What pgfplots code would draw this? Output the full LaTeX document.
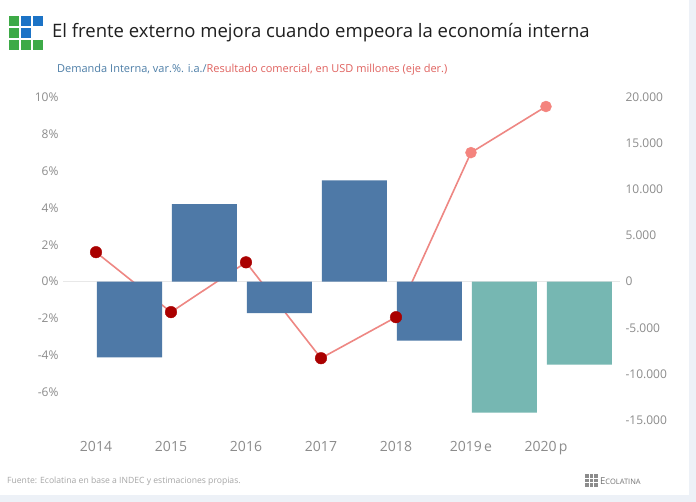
\documentclass[border=0pt]{standalone}
\usepackage{fontspec}
\setmainfont{Open Sans}
\usepackage{pgfplots}
\pgfplotsset{compat=1.18}
\definecolor{barblue}{HTML}{4E79A7}
\definecolor{barteal}{HTML}{76B7B2}
\definecolor{linered}{HTML}{EE8783}
\definecolor{darkred}{HTML}{AA0000}
\definecolor{lightred}{HTML}{F4847E}
\definecolor{ticktxt}{HTML}{8C8C8C}
\definecolor{subblue}{HTML}{4E7FA8}
\definecolor{subred}{HTML}{E0625F}
\definecolor{logogreen}{HTML}{3DAA47}
\definecolor{logoblue}{HTML}{1C73C6}
\definecolor{framebg}{HTML}{EDF1F7}
\definecolor{zeroline}{HTML}{E8E8E8}

\pgfplotsset{common/.style={
  at={(63pt,82pt)}, anchor=south west,
  width=557pt, height=322.7pt, scale only axis,
  xmin=-0.44, xmax=6.987, clip=false,
  axis line style={draw=none}, tick style={draw=none}, major tick length=0pt,
  scaled y ticks=false,
  /pgf/number format/assume math mode=true,
  ticklabel style={text=ticktxt}
}}

\begin{document}
\begin{tikzpicture}[x=1pt,y=1pt]
\fill[framebg] (0,0) rectangle (696,502);
\fill[white] (0,7) rectangle (689,502);
\useasboundingbox (0,0) rectangle (696,502);
% logo
\fill[logogreen] (9,476) rectangle (19,486);
\fill[logoblue]  (21,476) rectangle (31,486);
\fill[logoblue]  (33,476) rectangle (43,486);
\fill[logogreen] (9,464) rectangle (19,474);
\fill[logoblue]  (21,464) rectangle (31,474);
\fill[logogreen] (9,452) rectangle (19,462);
\fill[logogreen] (21,452) rectangle (31,462);
\fill[logogreen] (33,452) rectangle (43,462);
\node[anchor=west, inner sep=0pt, font=\fontsize{18.5}{22}\selectfont, text=black!88] at (52,469) {El frente externo mejora cuando empeora la economía interna};
\node[anchor=west, inner sep=0pt, font=\fontsize{11}{13}\selectfont] at (57,432) {\textcolor{subblue}{Demanda Interna, var.\%. i.a./}\textcolor{subred}{Resultado comercial, en USD millones (eje der.)}};
% footer
\node[anchor=west, inner sep=0pt, font=\fontsize{8.6}{10}\selectfont, text=black!35] at (7,21) {Fuente: Ecolatina en base a INDEC y estimaciones propias.};
\foreach \i in {0,1,2} \foreach \j in {0,1,2} {
  \fill[black!45] (585+\i*4.5,15+\j*4.5) rectangle (588.8+\i*4.5,18.8+\j*4.5);
}
\node[anchor=west, inner sep=0pt, text=black!55] at (600,21) {\fontsize{9.5}{10}\selectfont E\fontsize{7.5}{10}\selectfont COLATINA};

% line (behind bars)
\begin{axis}[common, ymin=-15000, ymax=20000,
  xtick=\empty, ytick=\empty,
  extra y ticks={0}, extra y tick labels={},
  extra y tick style={grid=major, major grid style={draw=zeroline, line width=0.8pt}}]
\addplot[linered, line width=1.6pt, no marks] coordinates {
  (0,3200) (1,-3300) (2,2100) (3,-8300) (4,-3850) (5,14000) (6,19000)};
\end{axis}

% bars, left axis
\begin{axis}[common, ymin=-7.5, ymax=10,
  ytick={-6,-4,-2,0,2,4,6,8,10},
  yticklabel={\pgfmathprintnumber{\tick}\%},
  yticklabel style={font=\fontsize{12}{14}\selectfont, anchor=east, xshift=-1pt},
  xtick={0,1,2,3,4,5,6},
  xticklabels={2014,2015,2016,2017,2018,{2019\,e},{2020\,p}},
  xticklabel style={font=\fontsize{14}{16}\selectfont, anchor=base, yshift=-32pt}]
\addplot[ybar, bar width=65pt, bar shift=33.5pt, fill=barblue, draw=none] coordinates {
  (0,-4.1) (1,4.2) (2,-1.7) (3,5.5) (4,-3.2)};
\addplot[ybar, bar width=65pt, bar shift=33.5pt, fill=barteal, draw=none] coordinates {
  (5,-7.1) (6,-4.5)};
\end{axis}

% markers, right axis
\begin{axis}[common, ymin=-15000, ymax=20000,
  xtick=\empty,
  ytick={-15000,-10000,-5000,0,5000,10000,15000,20000},
  yticklabel pos=right,
  /pgf/number format/.cd, 1000 sep={.}, /pgfplots/.cd,
  yticklabel style={font=\fontsize{12}{14}\selectfont, anchor=west, xshift=2pt}]
\addplot[only marks, mark=*, mark size=5.8pt, darkred] coordinates {
  (0,3200) (1,-3300) (2,2100) (3,-8300) (4,-3850)};
\addplot[only marks, mark=*, mark size=5.5pt, lightred] coordinates {
  (5,14000) (6,19000)};
\end{axis}
\end{tikzpicture}
\end{document}
